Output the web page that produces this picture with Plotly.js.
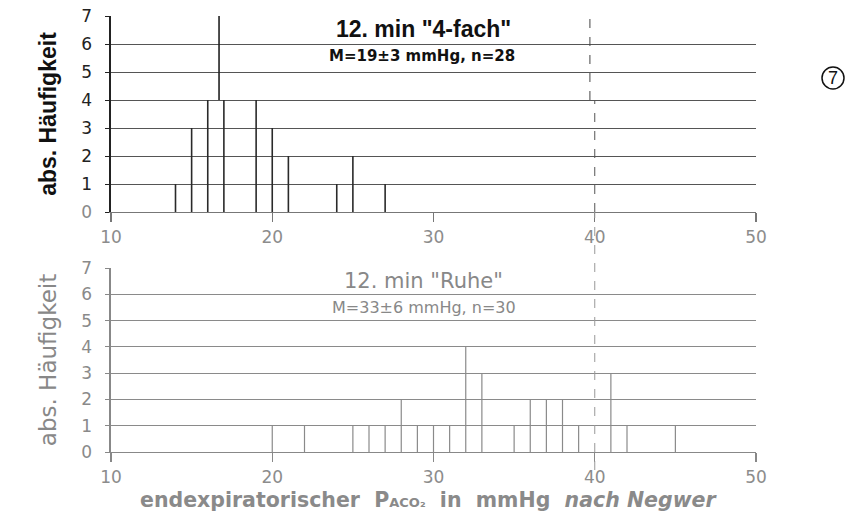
<!DOCTYPE html>
<html>
<head>
<meta charset="utf-8">
<script src="https://cdn.plot.ly/plotly-3.0.1.min.js"></script>
<style>html,body{margin:0;padding:0;background:#fff;}#chart{width:858px;height:515px;}</style>
</head>
<body>
<div id="chart"></div>
<script>
// Top panel: 12. min "4-fach"
const topX = [14, 15, 16, 17, 19, 20, 21, 24, 25, 27];
const topN = [1, 3, 4, 4, 4, 3, 2, 1, 2, 1];
// Bottom panel: 12. min "Ruhe"
const botX = [20, 22, 25, 26, 27, 28, 29, 30, 31, 32, 33, 35, 36, 37, 38, 39, 41, 42, 45];
const botN = [1, 1, 1, 1, 1, 2, 1, 1, 1, 4, 3, 1, 2, 2, 2, 1, 3, 1, 1];
const xTicks = [10, 20, 30, 40, 50];
const yTicks = [0, 1, 2, 3, 4, 5, 6, 7];

function needles(xs, ns) {
  const x = [], y = [];
  xs.forEach((v, i) => { x.push(v, v, null); y.push(0, ns[i], null); });
  return {x, y};
}
const nt = needles(topX, topN);
const nb = needles(botX, botN);

const FONT = 'Liberation Sans, Arial, Helvetica, sans-serif';
const WIDE = 'DejaVu Sans, sans-serif';
const traces = [
  {x: nt.x, y: nt.y, xaxis: 'x', yaxis: 'y', mode: 'lines', line: {color: '#2a2a2a', width: 1.6}, hoverinfo: 'skip', showlegend: false},
  {x: nb.x, y: nb.y, xaxis: 'x2', yaxis: 'y2', mode: 'lines', line: {color: '#8a8a8a', width: 1.2}, hoverinfo: 'skip', showlegend: false}
];

const xd = [111/858, 756/858];
function xax(anchor, lc) {
  return {domain: xd, anchor: anchor, range: [10, 50], tickvals: xTicks, ticks: 'outside', ticklen: 9, tickwidth: 1.2,
    tickcolor: lc, showline: true, linecolor: lc, linewidth: 1.3, showgrid: false, zeroline: false,
    tickfont: {family: WIDE, size: 17, color: '#8c8c8c'}, fixedrange: true};
}
function yax(anchor, dom, lc, gc, ticktext, title, tfont) {
  return {domain: dom, anchor: anchor, range: [0, 7], tickvals: yTicks, ticktext: ticktext, ticks: 'outside', ticklen: 4, tickcolor: lc,
    showline: true, linecolor: lc, linewidth: 1.6, showgrid: true, gridcolor: gc, gridwidth: 1, zeroline: false,
    ticklabelstandoff: 10,
    tickfont: {family: WIDE, size: 17, color: '#8a8a8a'}, title: {text: title, font: tfont, standoff: 18}, fixedrange: true};
}
const topTickText = yTicks.map(v => v === 0 ? String(v) : '<span style="color:#222">' + v + '</span>');
const botTickText = yTicks.map(v => String(v));

const layout = {
  width: 858, height: 515,
  margin: {l: 0, r: 0, t: 0, b: 0},
  paper_bgcolor: '#fff', plot_bgcolor: '#fff',
  showlegend: false,
  xaxis: xax('y', '#777'),
  yaxis: yax('x', [1 - 212/515, 1 - 16/515], '#222', '#555', topTickText, 'abs. Häufigkeit', {family: FONT, size: 23, color: '#111', weight: 'bold'}),
  xaxis2: xax('y2', '#888'),
  yaxis2: yax('x2', [1 - 452/515, 1 - 268/515], '#888', '#8a8a8a', botTickText, 'abs. Häufigkeit', {family: WIDE, size: 23, color: '#888'}),
  shapes: [
    {type: 'line', xref: 'x', yref: 'y', x0: 16.7, x1: 16.7, y0: 4, y1: 7, line: {color: '#222', width: 1.6}},
    {type: 'line', xref: 'x', yref: 'y', x0: 39.7, x1: 39.7, y0: 4, y1: 7, line: {color: '#444', width: 1, dash: 'dash'}},
    {type: 'line', xref: 'x', yref: 'y', x0: 40, x1: 40, y0: 0, y1: 4, line: {color: '#555', width: 1, dash: 'dash'}},
    {type: 'line', xref: 'x2', yref: 'paper', x0: 40, x1: 40, y0: 1 - 470/515, y1: 1 - 212/515, line: {color: '#999', width: 1, dash: 'dash'}},
    {type: 'circle', xref: 'paper', yref: 'paper', x0: 822/858, x1: 844/858, y0: 1 - 89/515, y1: 1 - 67/515, line: {color: '#111', width: 1.5}}
  ],
  annotations: [
    {xref: 'paper', yref: 'paper', x: 423/858, y: 1 - 29/515, xanchor: 'center', yanchor: 'middle', text: '<b>12. min "4-fach"</b>', showarrow: false, font: {family: FONT, size: 23, color: '#111'}},
    {xref: 'paper', yref: 'paper', x: 422/858, y: 1 - 56/515, xanchor: 'center', yanchor: 'middle', text: '<b>M=19±3 mmHg, n=28</b>', showarrow: false, font: {family: WIDE, size: 15, color: '#111'}},
    {xref: 'paper', yref: 'paper', x: 423/858, y: 1 - 281/515, xanchor: 'center', yanchor: 'middle', text: '12. min "Ruhe"', showarrow: false, font: {family: WIDE, size: 21, color: '#888'}},
    {xref: 'paper', yref: 'paper', x: 424/858, y: 1 - 307/515, xanchor: 'center', yanchor: 'middle', text: 'M=33±6 mmHg, n=30', showarrow: false, font: {family: WIDE, size: 16, color: '#888'}},
    {xref: 'paper', yref: 'paper', x: 428/858, y: 1 - 500/515, xanchor: 'center', yanchor: 'middle', text: '<b>endexpiratorischer  P<span style="font-size:13px">ACO₂</span>  in  mmHg  <i>nach Negwer</i></b>', showarrow: false, font: {family: WIDE, size: 20.5, color: '#8a8a8a'}},
    {xref: 'paper', yref: 'paper', x: 833/858, y: 1 - 78/515, xanchor: 'center', yanchor: 'middle', text: '7', showarrow: false, font: {family: FONT, size: 18, color: '#111'}}
  ]
};

Plotly.newPlot('chart', traces, layout, {staticPlot: true, displayModeBar: false});
</script>
</body>
</html>
